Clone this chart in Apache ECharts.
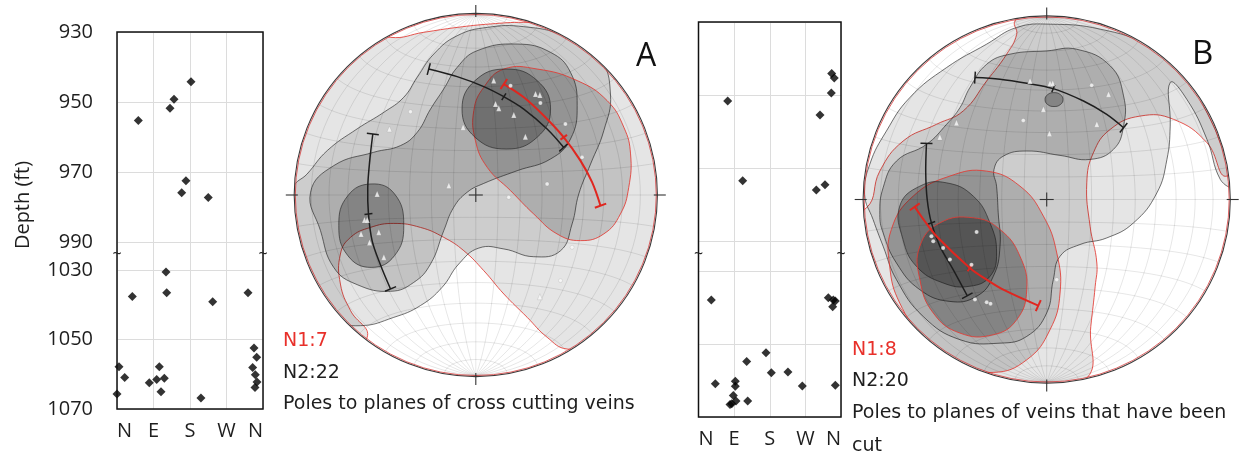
<!DOCTYPE html>
<html><head><meta charset="utf-8">
<script src="https://cdn.jsdelivr.net/npm/echarts@6.0.0/dist/echarts.min.js"></script>
<style>html,body{margin:0;padding:0;background:#fff}#c{width:1242px;height:455px}</style>
</head><body><div id="c"></div>
<script>
// ================= DATA =================
const dirLabels = ['N', 'E', 'S', 'W', 'N'];
const depthTicksUpper = [930, 950, 970, 990];
const depthTicksLower = [1030, 1050, 1070];
const depthUpperRange = [930, 993.7];
const depthLowerRange = [1025.6, 1070];

// Strip plot A (azimuth in degrees, depth in ft)
const stripAAzimuth = [182.5, 140.5, 130.7, 52.5, 170, 159.5, 225,
  120.8, 122.5, 37.7, 236, 323, 4.9, 19, 0, 79.6, 97.8, 104.4, 116.7, 108.5, 207,
  337.8, 344.4, 334.5, 341, 345.2, 340.3];
const stripADepth = [944.2, 949.2, 951.8, 955.3, 972.5, 975.9, 977.3,
  1030.5, 1036.5, 1037.6, 1039.1, 1036.5, 1057.8, 1060.9, 1065.7, 1062.4, 1061.5, 1057.8, 1061.1, 1065, 1066.8,
  1052.4, 1055.1, 1058, 1060.1, 1062.2, 1063.8];

// Strip plot B
const stripBAzimuth = [336.5, 343, 335.5, 73.7, 307, 111.6, 319.6, 297.7,
  32.4, 328, 340.6, 345.6, 339, 170.5, 121.8, 184, 226, 42.5, 93, 93, 262.3, 345.6,
  88, 94.7, 84, 124.3, 79.6];
const stripBDepth = [944.1, 945.3, 949.4, 951.6, 955.4, 973.4, 974.5, 975.9,
  1037.9, 1037.3, 1037.9, 1038.2, 1039.8, 1052.4, 1054.8, 1057.9, 1057.7, 1060.9, 1060.2, 1061.6, 1061.5, 1061.3,
  1064.1, 1065.6, 1066.4, 1065.6, 1066.6];

// Stereonet A contours (net coords, radius = 100)
const aN1L1 = [[-60.0,-78.6],[-69.2,-63.9],[-74.8,-49.2],[-74.8,-32.6],[-69.2,-23.4],[-58.2,-17.9],[-45.3,-15.7],[-30.6,-17.9],[-17.7,-23.4],[-6.6,-30.8],[4.4,-41.8],[15.5,-54.7],[28.4,-67.6],[39.4,-78.6],[50.5,-85.1],[95,-85],[125,0],[95,85],[41.3,94.5],[26.5,95.4],[8.1,94.5],[-10.3,92.6],[-28.7,89.9],[-47.1,87.1],[-80,95],[-125,30],[-120,-60],[-80,-100]];
const aN1L2 = [[15.5,69.6],[33.9,69.6],[56.0,63.2],[72.6,52.1],[81.8,37.4],[85.5,22.7],[84.5,4.2],[79.9,-10.5],[70.7,-21.5],[57.8,-25.2],[44.9,-21.5],[32.0,-10.5],[19.2,2.4],[6.3,15.3],[-0.2,30.0],[-1.1,46.6],[4.4,59.5]];
const aN2L1 = [[-100.6,4.2],[-93.2,11.6],[-82.1,24.5],[-65.6,36.5],[-50.8,45.7],[-39.8,54.0],[-32.4,65.0],[-23.2,77.9],[-10.3,88.0],[6.3,92.6],[26.5,93.0],[48.6,88.0],[68.0,76.1],[74.4,55.8],[70.7,35.5],[63.4,17.1],[56.9,0.6],[53.2,-16.0],[46.8,-30.8],[32.0,-34.1],[15.5,-29.8],[1.7,-29.3],[-9.4,-38.1],[-18.6,-51.0],[-30.6,-61.1],[-45.3,-67.6],[-63.7,-72.2],[-80.3,-68.5],[-91.3,-57.5],[-97.8,-38.1],[-100.2,-14.2]];
const aN2L2 = [[-91.3,1.5],[-78.5,16.2],[-56.4,23.6],[-41.6,27.3],[-32.4,34.6],[-25.0,47.5],[-17.7,58.6],[-10.3,70.5],[0.7,79.7],[22.8,83.4],[41.3,78.8],[52.3,67.8],[56.0,49.4],[52.3,30.9],[41.3,19.9],[22.8,13.4],[4.4,6.4],[-4.8,1.5],[-12.2,-6.8],[-17.7,-19.7],[-25.0,-38.1],[-34.3,-48.3],[-47.1,-53.2],[-65.6,-49.5],[-78.5,-40.0],[-85.8,-19.7]];
const aN2L3Left = [[-57.8,6.1],[-44.9,0.6],[-39.8,-16.9],[-44.9,-33.5],[-57.8,-40.0],[-70.7,-33.5],[-75.7,-16.9],[-70.7,-0.4]];
const aN2L3Right = [[16.8,69.6],[33.9,63.2],[41.3,47.5],[33.9,31.9],[16.8,25.4],[-0.4,31.9],[-7.6,47.5],[-0.4,63.2]];

// Stereonet A confidence arcs and poles
const aArcN2Upper = [[-26.0,69.6],[-10.3,65.4],[4.4,59.9],[15.5,54.3],[26.5,47.5],[39.4,36.5],[48.6,26.3]];
const aArcN2Left = [[-56.9,33.7],[-58.6,19.0],[-59.7,4.2],[-59.3,-10.5],[-57.3,-25.2],[-52.7,-38.5],[-47.1,-51.9]];
const aArcN1 = [[15.5,61.3],[26.5,54.0],[37.6,43.8],[48.6,31.9],[57.8,19.0],[64.3,7.0],[68.9,-5.9]];
const aPolesTri = [[9.9,63.2],[33.0,55.8],[35.4,55.2],[10.9,50.3],[12.7,47.9],[21.0,44.2],[27.4,32.2],[-7.0,37.4],[-47.7,36.5],[-14.9,5.2],[-54.5,0.6],[-61.5,-13.8],[-60.0,-13.8],[-63.4,-21.5],[-53.6,-20.6],[-58.7,-26.2],[-50.8,-34.4],[35.4,-56.2]];
const aPolesDot = [[-36.1,46.0],[35.7,50.8],[49.5,39.2],[58.7,20.8],[39.4,6.1],[18.2,-1.3],[53.2,-28.9],[46.8,-47.3],[19.2,60.4]];

// Stereonet B contours
const bN1L1 = [[-98.5,-4.6],[-91.2,15.5],[-78.5,31.9],[-60.2,41.1],[-45.6,48.4],[-32.8,64.8],[-21.9,79.4],[-16.4,90.3],[-17.3,97.6],[0,118],[70,105],[118,40],[98.5,12.8],[87.6,31.0],[69.3,43.8],[51.1,45.6],[34.7,38.3],[25.5,25.5],[21.9,9.1],[23.7,-14.6],[27.4,-34.7],[26.5,-47.4],[24.1,-69.3],[21.0,-98.5],[-30,-118],[-92,-78],[-118,-10]];
const bN1L2 = [[-84.9,-16.4],[-73.0,1.8],[-52.9,12.8],[-32.8,15.5],[-14.6,7.3],[-1.8,-9.1],[5.5,-29.2],[7.3,-51.1],[1.8,-71.2],[-10.9,-87.6],[-29.2,-94.5],[-49.3,-89.4],[-67.5,-74.8],[-80.3,-56.6],[-85.8,-36.5]];
const bN1L3 = [[-69.3,-25.5],[-58.4,-12.8],[-40.1,-10.0],[-25.5,-16.4],[-14.6,-31.0],[-10.9,-49.3],[-16.4,-65.7],[-29.2,-73.9],[-47.4,-73.0],[-62.0,-62.0],[-69.3,-43.8]];
const bN2L1 = [[101.3,7.3],[94.9,31.0],[85.8,51.1],[76.6,69.3],[56.6,83.9],[29.2,93.1],[1.8,95.8],[-16.4,94.0],[-32.8,84.9],[-54.7,72.1],[-74.8,55.7],[-87.6,37.4],[-96.7,19.2],[-99.5,2.7],[-94.9,-10.9],[-89.4,-25.5],[-82.1,-43.8],[-67.5,-63.9],[-47.4,-76.6],[-25.5,-78.5],[-10.9,-74.8],[0.0,-62.0],[3.6,-43.8],[7.3,-31.0],[18.2,-24.6],[32.8,-21.0],[47.4,-12.8],[60.2,3.6],[65.7,21.9],[67.5,40.1],[67.5,63.9],[76.6,54.7],[87.6,32.8],[94.9,10.9]];
const bN2L2 = [[-91.2,-8.2],[-89.4,6.4],[-82.1,21.0],[-65.7,30.1],[-54.7,41.1],[-47.4,50.2],[-42.0,61.1],[-32.8,73.9],[-20.1,79.4],[0.0,81.2],[16.4,82.1],[34.7,73.0],[42.0,56.6],[42.0,40.1],[36.5,27.4],[23.7,21.9],[7.3,24.1],[-10.9,26.5],[-23.7,23.7],[-28.8,16.4],[-27.4,7.3],[-26.5,-7.3],[-25.5,-25.5],[-29.2,-42.0],[-38.3,-52.9],[-52.9,-55.7],[-69.3,-49.3],[-82.1,-34.7],[-89.4,-18.2]];
const bN2L3Left = [[-80.3,-3.6],[-69.3,7.3],[-54.7,9.1],[-40.1,1.8],[-31.0,-12.8],[-27.4,-29.2],[-31.0,-42.0],[-42.0,-47.4],[-56.6,-45.6],[-71.2,-36.5],[-78.5,-21.9]];
const bN2L3Top = [[4.0,58.4],[7.5,57.3],[8.9,54.6],[7.5,51.9],[4.0,50.8],[0.5,51.9],[-0.9,54.6],[0.5,57.3]];

// Stereonet B confidence arcs and poles
const bArcN2Upper = [[-39.2,66.6],[-25.5,65.7],[-10.9,63.5],[3.6,60.6],[20.1,53.8],[32.8,46.5],[42.0,39.2]];
const bArcN2Left = [[-65.7,30.7],[-66.1,14.6],[-65.3,0.0],[-63.0,-12.8],[-58.4,-25.5],[-51.1,-38.3],[-43.4,-52.6]];
const bArcN1 = [[-72.1,-4.0],[-66.6,-11.9],[-60.2,-20.1],[-42.0,-37.4],[-32.8,-43.8],[-23.7,-49.3],[-4.6,-58.0]];
const bPolesTri = [[-9.1,64.8],[1.8,63.5],[3.3,63.5],[33.8,57.5],[-1.8,49.3],[27.4,41.1],[1.5,36.1],[-49.3,42.0],[-58.4,34.1]];
const bPolesDot = [[24.6,62.4],[-12.8,43.2],[-38.3,-17.7],[-63.0,-20.1],[-62.0,-22.8],[-56.6,-26.5],[-52.9,-32.8],[-41.1,-35.6],[-39.2,-54.7],[-32.8,-56.2],[-30.7,-56.9],[5.5,-43.8]];

const labelsA = ['N1:7', 'N2:22', 'Poles to planes of cross cutting veins'];
const labelsB = ['N1:8', 'N2:20', 'Poles to planes of veins that have been', 'cut'];

// ================= STYLE / LAYOUT =================
const FONT = '"Open Sans", "Noto Sans", sans-serif';
const FONT2 = '"DejaVu Sans", Verdana, sans-serif';
const RED = '#e8302a';
const GRID_COL = '#dcdcdc';
const fillL = {1: 'rgba(0,0,0,0.10)', 2: 'rgba(0,0,0,0.15)', 3: 'rgba(0,0,0,0.24)'};
const strokeC = {n1: 'rgba(226,58,50,0.85)', n2: 'rgba(40,40,40,0.65)'};

function circleInfo(api) {
  const c = api.coord([0, 0]);
  const e = api.coord([100, 0]);
  return {cx: c[0], cy: c[1], r: e[0] - c[0]};
}

function netItem(params, api) {
  const ci = circleInfo(api);
  const children = [];
  const px = (e, n, d) => { const k = ci.r / Math.sqrt(1 + d); return [ci.cx + e * k, ci.cy - n * k]; };
  const D = Math.PI / 180;
  for (let a = 10; a < 180; a += 10) {
    const pts = [];
    for (let p = 0; p <= 180; p += 3) {
      pts.push(px(Math.sin(p * D) * Math.cos(a * D), Math.cos(p * D), Math.sin(p * D) * Math.sin(a * D)));
    }
    children.push({type: 'polyline', shape: {points: pts}, style: {stroke: 'rgba(0,0,0,0.14)', lineWidth: 0.7, fill: null}});
  }
  for (let b = 10; b < 180; b += 10) {
    const pts = [];
    for (let s = 0; s <= 180; s += 3) {
      pts.push(px(Math.sin(b * D) * Math.cos(s * D), Math.cos(b * D), Math.sin(b * D) * Math.sin(s * D)));
    }
    children.push({type: 'polyline', shape: {points: pts}, style: {stroke: 'rgba(0,0,0,0.14)', lineWidth: 0.7, fill: null}});
  }
  return {type: 'group', children, clipPath: {type: 'circle', shape: {cx: ci.cx, cy: ci.cy, r: ci.r}}};
}

function frameItem(params, api) {
  const ci = circleInfo(api);
  const {cx, cy, r} = ci;
  const k = 9, s = { stroke: '#333', lineWidth: 1.1 };
  return {type: 'group', children: [
    {type: 'circle', shape: {cx, cy, r: r + 0.6}, style: {fill: null, stroke: '#3a3a3a', lineWidth: 1.1}},
    {type: 'circle', shape: {cx, cy, r: r - 0.5}, style: {fill: null, stroke: 'rgba(210,50,50,0.75)', lineWidth: 1}},
    {type: 'line', shape: {x1: cx, y1: cy - r - k, x2: cx, y2: cy - r + 3}, style: s},
    {type: 'line', shape: {x1: cx, y1: cy + r + k, x2: cx, y2: cy + r - 3}, style: s},
    {type: 'line', shape: {x1: cx - r - k, y1: cy, x2: cx - r + 3, y2: cy}, style: s},
    {type: 'line', shape: {x1: cx + r + k, y1: cy, x2: cx + r - 3, y2: cy}, style: s},
    {type: 'line', shape: {x1: cx - 7, y1: cy, x2: cx + 7, y2: cy}, style: s},
    {type: 'line', shape: {x1: cx, y1: cy - 7, x2: cx, y2: cy + 7}, style: s}
  ]};
}

function contourSeries(axisIdx, list) {
  return {
    type: 'custom', xAxisIndex: axisIdx, yAxisIndex: axisIdx, z: 2, silent: true,
    data: list.map((c, i) => [0, 0, i]),
    renderItem: (params, api) => {
      const c = list[params.dataIndex];
      const ci = circleInfo(api);
      const pts = c.pts.map(p => api.coord(p));
      return {type: 'polygon', shape: {points: pts, smooth: 0.45},
        style: {fill: fillL[c.level], stroke: strokeC[c.set], lineWidth: 1},
        clipPath: {type: 'circle', shape: {cx: ci.cx, cy: ci.cy, r: ci.r}}};
    }
  };
}

function arcSeries(axisIdx, list) {
  return {
    type: 'custom', xAxisIndex: axisIdx, yAxisIndex: axisIdx, z: 4, silent: true,
    data: list.map((c, i) => [0, 0, i]),
    renderItem: (params, api) => {
      const a = list[params.dataIndex];
      const color = a.set === 'n1' ? '#e0261f' : '#1e1e1e';
      const w = a.set === 'n1' ? 2 : 1.5;
      const pts = a.pts.map(p => api.coord(p));
      const cap = (p, q, len) => {
        const dx = q[0] - p[0], dy = q[1] - p[1], L = Math.hypot(dx, dy);
        const nx = -dy / L, ny = dx / L;
        return {type: 'line', shape: {x1: p[0] - nx * len, y1: p[1] - ny * len, x2: p[0] + nx * len, y2: p[1] + ny * len},
          style: {stroke: color, lineWidth: w}};
      };
      const m = Math.floor(pts.length / 2);
      return {type: 'group', children: [
        {type: 'polyline', shape: {points: pts, smooth: 0.35}, style: {stroke: color, lineWidth: w, fill: null}},
        cap(pts[0], pts[1], 6),
        cap(pts[pts.length - 1], pts[pts.length - 2], 6),
        cap(pts[m], pts[m + 1], 4)
      ]};
    }
  };
}

function stereoSeries(axisIdx, contours, arcs, tri, dot) {
  return [
    {type: 'custom', xAxisIndex: axisIdx, yAxisIndex: axisIdx, z: 1, silent: true, data: [[0, 0]], renderItem: netItem},
    contourSeries(axisIdx, contours),
    {type: 'custom', xAxisIndex: axisIdx, yAxisIndex: axisIdx, z: 3, silent: true, data: [[0, 0]], renderItem: frameItem},
    arcSeries(axisIdx, arcs),
    {type: 'scatter', xAxisIndex: axisIdx, yAxisIndex: axisIdx, z: 5, silent: true, data: tri,
      symbol: 'triangle', symbolSize: [5, 6], itemStyle: {color: '#fafafa', borderColor: 'rgba(120,120,120,0.4)', borderWidth: 0.5}},
    {type: 'scatter', xAxisIndex: axisIdx, yAxisIndex: axisIdx, z: 5, silent: true, data: dot,
      symbol: 'circle', symbolSize: 4, itemStyle: {color: '#fafafa', borderColor: 'rgba(120,120,120,0.4)', borderWidth: 0.5}}
  ];
}

function splitStrip(az, depth) {
  const up = [], lo = [];
  az.forEach((a, i) => { (depth[i] < 1000 ? up : lo).push([a, depth[i]]); });
  return [up, lo];
}
const [aUp, aLo] = splitStrip(stripAAzimuth, stripADepth);
const [bUp, bLo] = splitStrip(stripBAzimuth, stripBDepth);

function stripX(gridIndex, showLabels) {
  return {gridIndex, type: 'value', min: 0, max: 360, interval: 90,
    axisLine: {show: false}, axisTick: {show: false},
    axisLabel: {show: showLabels, formatter: v => dirLabels[Math.round(v / 90)], fontSize: 20, fontFamily: FONT,
      color: '#1e1e1e', margin: 12, alignMinLabel: 'left', alignMaxLabel: 'right', showMinLabel: true, showMaxLabel: true},
    splitLine: {show: true, lineStyle: {color: GRID_COL, width: 1}}};
}
function stripY(gridIndex, range, ticks, showLabels) {
  return {gridIndex, type: 'value', inverse: true, min: range[0], max: range[1],
    axisLine: {show: false}, axisTick: {show: false, customValues: ticks},
    axisLabel: {show: showLabels, customValues: ticks, formatter: v => String(v), fontSize: 20, fontFamily: FONT, color: '#1e1e1e', margin: 24},
    splitLine: {show: true, lineStyle: {color: GRID_COL, width: 1}}};
}
function stereoAxis(gridIndex) {
  return {gridIndex, type: 'value', min: -100, max: 100, show: false};
}
function stripScatter(idx, data) {
  return {type: 'scatter', xAxisIndex: idx, yAxisIndex: idx, data, symbol: 'diamond', symbolSize: 9,
    itemStyle: {color: '#000'}, z: 5, silent: true, clip: false};
}

const contoursA = [
  {pts: aN1L1, level: 1, set: 'n1'}, {pts: aN2L1, level: 1, set: 'n2'},
  {pts: aN2L2, level: 2, set: 'n2'}, {pts: aN1L2, level: 2, set: 'n1'},
  {pts: aN2L3Left, level: 3, set: 'n2'}, {pts: aN2L3Right, level: 3, set: 'n2'}
];
const contoursB = [
  {pts: bN1L1, level: 1, set: 'n1'}, {pts: bN2L1, level: 1, set: 'n2'},
  {pts: bN2L2, level: 2, set: 'n2'}, {pts: bN1L2, level: 2, set: 'n1'},
  {pts: bN2L3Left, level: 3, set: 'n2'}, {pts: bN2L3Top, level: 3, set: 'n2'}, {pts: bN1L3, level: 3, set: 'n1'}
];
const arcsA = [{pts: aArcN2Upper, set: 'n2'}, {pts: aArcN2Left, set: 'n2'}, {pts: aArcN1, set: 'n1'}];
const arcsB = [{pts: bArcN2Upper, set: 'n2'}, {pts: bArcN2Left, set: 'n2'}, {pts: bArcN1, set: 'n1'}];

function txt(x, y, text, font, color, opts) {
  const o = opts || {};
  return {type: 'text', x, y, z: 20, silent: true, rotation: o.rotation || 0,
    style: {text, font, fill: color, align: o.align || 'left', verticalAlign: 'middle'}};
}
const tilde = (x, y) => txt(x, y, '~', '16px ' + FONT, '#222', {align: 'center'});

const option = {
  animation: false,
  backgroundColor: '#fff',
  grid: [
    {left: 117, top: 32, width: 146, height: 223, outerBoundsMode: 'none'},
    {left: 117, top: 255, width: 146, height: 154, outerBoundsMode: 'none'},
    {left: 698.5, top: 22, width: 142.5, height: 233, outerBoundsMode: 'none'},
    {left: 698.5, top: 255, width: 142.5, height: 162, outerBoundsMode: 'none'},
    {left: 294.8, top: 14, width: 362, height: 362, outerBoundsMode: 'none'},
    {left: 863.7, top: 16.5, width: 366, height: 366, outerBoundsMode: 'none'}
  ],
  xAxis: [stripX(0, false), stripX(1, true), stripX(2, false), stripX(3, true), stereoAxis(4), stereoAxis(5)],
  yAxis: [
    stripY(0, depthUpperRange, depthTicksUpper, true),
    stripY(1, depthLowerRange, depthTicksLower, true),
    stripY(2, depthUpperRange, depthTicksUpper, false),
    stripY(3, depthLowerRange, depthTicksLower, false),
    stereoAxis(4), stereoAxis(5)
  ],
  series: [
    stripScatter(0, aUp), stripScatter(1, aLo), stripScatter(2, bUp), stripScatter(3, bLo),
    ...stereoSeries(4, contoursA, arcsA, aPolesTri, aPolesDot),
    ...stereoSeries(5, contoursB, arcsB, bPolesTri, bPolesDot)
  ],
  graphic: [
    {type: 'rect', shape: {x: 117, y: 32, width: 146, height: 377}, style: {fill: null, stroke: '#111', lineWidth: 1.5}, z: 10, silent: true},
    {type: 'rect', shape: {x: 698.5, y: 22, width: 142.5, height: 395}, style: {fill: null, stroke: '#111', lineWidth: 1.5}, z: 10, silent: true},
    tilde(117, 254), tilde(263, 254), tilde(698.5, 254), tilde(841, 254),
    txt(23, 205, 'Depth (ft)', '20px ' + FONT, '#1e1e1e', {rotation: Math.PI / 2, align: 'center'}),
    txt(283, 341, labelsA[0], '19px ' + FONT2, RED),
    txt(283, 373, labelsA[1], '19px ' + FONT2, '#1e1e1e'),
    txt(283, 404, labelsA[2], '19px ' + FONT2, '#1e1e1e'),
    txt(852, 350, labelsB[0], '19px ' + FONT2, RED),
    txt(852, 381, labelsB[1], '19px ' + FONT2, '#1e1e1e'),
    txt(852, 413, labelsB[2], '19px ' + FONT2, '#1e1e1e'),
    txt(852, 446, labelsB[3], '19px ' + FONT2, '#1e1e1e'),
    txt(636, 57, 'A', '32px ' + FONT, '#111'),
    txt(1192, 55, 'B', '33px ' + FONT, '#111')
  ]
};

const chart = echarts.init(document.getElementById('c'), null, {renderer: 'canvas'});
chart.setOption(option);
</script>
</body></html>
